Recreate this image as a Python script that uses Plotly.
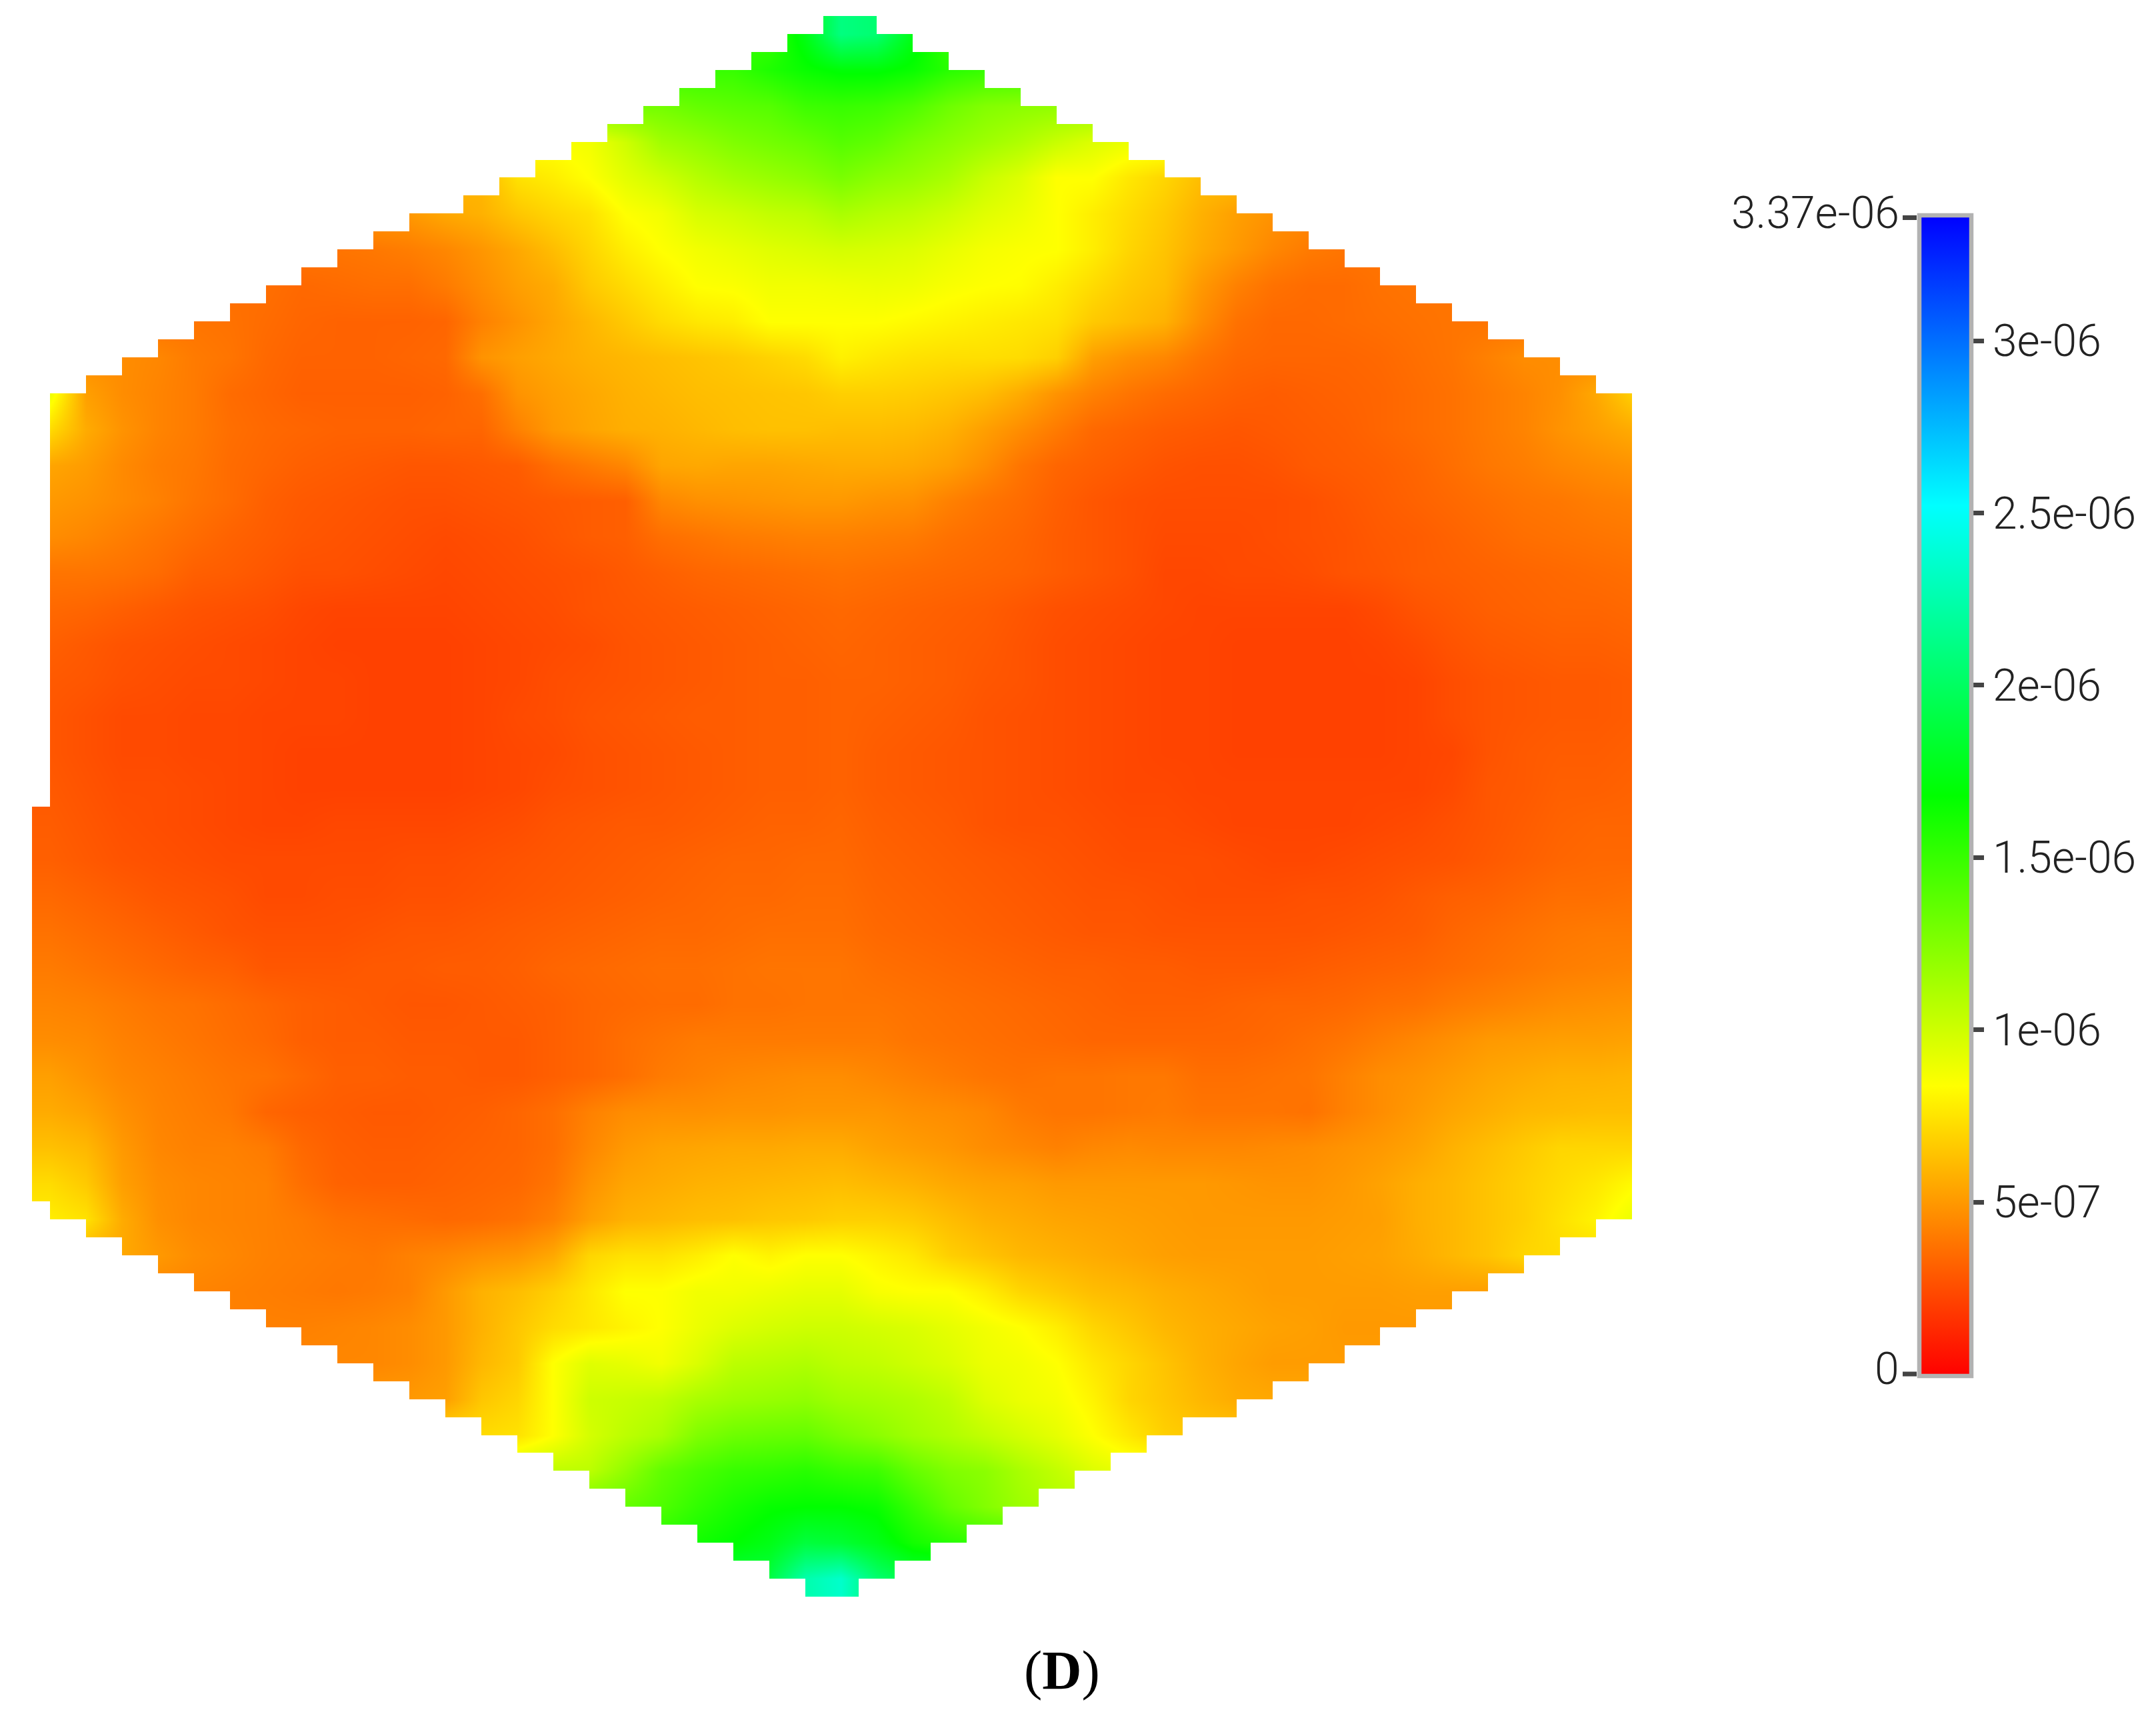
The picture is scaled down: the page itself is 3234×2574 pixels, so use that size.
import plotly.graph_objects as go

FIG_W = 3234
FIG_H = 2574
PAGE_MARGIN = 8  # the page body pushes the plot right and down by this much


def px(x):
    return (x - PAGE_MARGIN) / FIG_W


def py(y):
    return 1 - (y - PAGE_MARGIN) / FIG_H


# values, in units of 1e-8, one entry per 2x2 mesh cells
cell_values = [
    [150,150,150,150,150,150,150,150,150,150,150,150,150,150,150,150,150,150,150,150,150,175,210,205,175,150,150,150,150,150,150,150,150,150,150,150,150,150,150,150,150,150,150,150,150],
    [150,150,150,150,150,150,150,150,150,150,150,150,150,150,150,150,150,150,150,150,158,165,170,170,165,155,150,150,150,150,150,150,150,150,150,150,150,150,150,150,150,150,150,150,150],
    [130,130,130,130,130,130,130,130,130,130,130,130,130,130,130,130,130,130,135,138,140,148,150,148,142,132,125,122,120,120,120,120,120,120,120,120,120,120,120,120,120,120,120,120,120],
    [85,85,85,85,85,85,85,85,85,85,85,85,85,85,85,88,100,115,120,126,130,134,140,136,128,122,116,110,102,95,90,90,90,90,90,90,90,90,90,90,90,90,90,90,90],
    [60,60,60,60,60,60,60,60,60,60,60,60,60,74,78,84,93,100,108,114,118,122,128,122,118,112,102,95,84,84,76,70,62,62,62,62,62,62,62,62,62,62,62,62,62],
    [50,50,50,50,50,50,50,50,50,50,50,55,58,65,70,74,84,88,97,100,104,106,112,108,105,100,94,90,84,78,72,66,58,52,48,45,45,45,45,45,45,45,45,45,45],
    [38,38,38,38,38,38,38,38,38,39,41,44,49,55,62,70,78,84,88,91,94,96,98,97,95,91,87,85,84,78,70,64,56,50,44,40,38,38,38,38,38,38,38,38,38],
    [36,36,36,36,36,36,36,34,35,36,36,40,46,52,56,66,72,78,84,85,88,88,89,90,89,86,84,83,78,72,66,62,50,42,37,35,35,37,38,38,38,38,38,38,38],
    [38,38,38,38,38,37,35,33,32,32,32,33,42,48,54,60,66,72,76,78,84,84,84,84,82,80,78,76,74,66,62,58,46,37,34,34,35,36,37,38,38,38,38,38,38],
    [46,46,46,44,40,38,34,32,32,32,33,34,48,52,55,58,60,62,64,66,69,72,79,76,74,73,73,72,68,52,47,44,38,34,33,33,33,34,36,38,42,46,46,46,46],
    [90,52,46,43,40,35,33,31,31,31,31,32,36,48,52,55,58,60,62,63,64,65,68,68,67,65,62,56,48,42,38,35,33,31,30,31,32,33,35,37,40,43,47,55,68],
    [72,56,48,43,40,36,34,33,32,32,32,33,33,42,50,54,57,58,60,62,63,63,62,62,61,58,52,46,40,34,32,30,29,28,29,30,31,33,35,37,40,43,48,52,56],
    [54,51,45,41,39,35,33,31,30,29,28,28,29,30,36,40,44,54,55,54,54,55,56,56,55,52,46,38,33,31,29,27,26,26,27,29,30,31,33,36,39,41,44,46,48],
    [50,48,45,42,38,35,31,29,28,27,26,26,27,28,29,30,31,44,47,48,49,50,50,48,47,42,38,35,31,28,26,25,25,25,25,26,28,30,32,34,36,38,39,41,42],
    [46,44,41,38,35,32,30,28,27,26,25,24,25,26,28,30,31,36,38,40,41,42,42,41,40,37,35,33,30,28,26,24,24,24,25,26,27,29,30,32,34,36,37,38,39],
    [38,38,37,35,31,30,28,26,26,25,24,23,24,25,26,27,29,31,33,34,35,36,37,36,35,34,33,32,30,28,26,23,23,24,24,25,27,28,30,31,32,33,34,35,36],
    [34,33,31,29,27,26,25,23,22,22,22,22,23,24,25,27,28,29,30,31,32,33,34,33,32,31,30,28,26,25,24,23,22,22,22,22,22,24,27,29,31,32,33,33,34],
    [31,29,27,26,25,24,23,22,21,21,21,21,22,23,24,25,27,28,29,30,31,32,33,32,31,30,29,27,25,24,23,22,22,21,21,21,21,22,24,27,29,30,31,31,32],
    [29,28,26,25,24,24,23,22,22,21,21,21,22,23,25,26,27,28,29,30,31,31,32,32,31,30,28,27,25,24,23,22,22,21,21,21,21,21,22,25,27,28,29,29,30],
    [28,26,24,24,23,23,22,22,22,21,21,21,22,24,25,27,28,29,30,30,31,31,32,31,30,29,27,26,25,24,23,22,22,21,21,21,21,21,22,25,27,28,29,29,30],
    [28,26,24,24,23,23,22,21,21,21,21,21,22,23,24,26,27,28,29,30,31,31,32,30,29,28,27,26,25,24,23,22,22,21,21,21,21,21,22,23,27,29,30,30,31],
    [29,27,25,25,24,23,22,21,21,21,21,21,22,23,25,26,27,28,29,30,31,31,32,30,29,28,27,26,25,24,23,23,22,22,22,22,22,22,22,24,28,29,31,31,32],
    [30,28,26,25,24,23,22,22,23,23,23,23,24,25,27,28,29,29,30,31,32,32,33,31,30,29,27,26,26,25,24,24,23,22,22,22,22,23,24,26,28,30,32,33,33],
    [31,29,27,26,25,24,24,24,24,24,25,25,26,27,28,29,30,31,32,33,33,34,34,32,31,30,29,28,27,26,25,25,25,24,23,23,24,25,26,27,29,31,33,34,34],
    [34,32,30,28,27,26,24,24,25,25,26,26,27,28,29,30,31,32,33,34,34,35,35,33,32,31,30,29,28,27,27,26,25,25,25,26,26,27,29,31,32,34,36,36,37],
    [37,35,33,31,29,27,26,26,26,27,28,28,29,30,31,32,33,34,34,35,36,36,36,34,33,32,31,30,29,28,28,27,27,27,27,27,28,29,30,33,35,37,39,40,40],
    [40,38,36,34,32,31,28,28,28,29,29,30,30,31,33,34,35,36,36,37,38,38,38,36,35,34,33,32,31,31,30,30,29,29,29,30,31,32,33,35,37,39,41,42,43],
    [43,42,40,38,37,35,33,31,30,29,28,28,29,30,31,33,34,35,35,37,37,38,38,38,37,36,35,34,33,32,31,31,31,32,33,33,34,36,37,40,42,44,46,47,48],
    [46,45,42,40,38,36,34,31,30,30,29,29,29,29,31,33,36,38,40,40,40,40,40,40,38,37,36,35,34,33,33,33,33,33,34,36,38,41,44,47,50,51,52,52,53],
    [52,48,44,42,40,38,37,34,31,31,30,30,29,29,31,33,36,40,42,44,45,46,46,44,42,40,38,37,38,38,39,39,36,36,37,38,42,46,48,51,54,56,58,58,59],
    [56,53,47,43,41,39,33,31,30,29,29,30,31,33,36,42,46,47,47,48,48,49,49,49,47,46,44,40,38,38,39,40,38,38,38,37,42,46,50,54,57,60,61,62,62],
    [63,60,50,44,42,42,40,34,31,30,30,31,32,33,36,44,50,53,54,55,55,56,56,53,51,49,46,44,42,44,45,44,44,44,45,46,48,50,53,58,62,66,70,70,70],
    [72,66,52,46,44,43,42,36,32,31,31,32,33,34,38,48,54,56,58,59,60,61,62,60,58,55,53,52,50,50,50,50,50,49,48,48,50,53,57,60,64,68,72,76,82],
    [78,74,56,47,44,43,42,40,37,36,35,34,35,37,42,52,58,60,62,63,65,66,68,68,66,62,58,56,54,53,52,51,50,50,50,50,51,52,57,60,64,68,74,80,90],
    [60,58,55,50,46,44,42,41,40,39,42,44,47,49,55,70,74,74,78,84,80,84,84,80,76,68,64,60,58,56,54,52,51,51,51,51,52,53,56,60,64,70,72,72,72],
    [50,48,46,44,43,42,41,40,39,40,42,50,58,62,68,76,84,84,88,88,90,92,92,86,84,84,78,70,66,62,60,57,55,53,51,51,51,51,52,52,52,52,52,52,52],
    [44,44,44,44,43,42,42,42,43,44,46,50,58,65,72,76,80,84,90,95,98,100,100,98,96,92,88,84,78,70,65,60,57,55,53,52,50,50,50,50,50,50,50,50,50],
    [44,44,44,44,44,44,44,44,44,44,46,50,60,66,84,94,92,88,96,106,108,110,106,104,100,96,90,88,84,76,70,64,58,54,51,51,51,51,51,51,51,51,51,51,51],
    [50,50,50,50,50,50,50,50,50,50,50,52,65,70,84,100,102,105,112,116,118,120,115,113,110,105,95,90,87,80,70,65,60,56,55,55,55,55,55,55,55,55,55,55,55],
    [72,72,72,72,72,72,72,72,72,72,72,72,72,74,84,98,106,112,126,132,134,135,128,122,115,110,104,98,92,84,76,68,65,65,65,65,65,65,65,65,65,65,65,65,65],
    [100,100,100,100,100,100,100,100,100,100,100,100,100,100,105,106,120,136,144,150,152,155,150,148,135,126,122,112,104,95,90,90,90,90,90,90,90,90,90,90,90,90,90,90,90],
    [130,130,130,130,130,130,130,130,130,130,130,130,130,130,130,130,135,142,152,160,166,168,168,165,150,135,125,116,110,110,110,110,110,110,110,110,110,110,110,110,110,110,110,110,110],
    [155,155,155,155,155,155,155,155,155,155,155,155,155,155,155,155,155,155,162,168,175,188,185,176,162,155,150,150,150,150,150,150,150,150,150,150,150,150,150,150,150,150,150,150,150],
    [190,190,190,190,190,190,190,190,190,190,190,190,190,190,190,190,190,190,190,190,190,225,235,205,190,190,190,190,190,190,190,190,190,190,190,190,190,190,190,190,190,190,190,190,190],
]

# first and one-past-last mesh column of every mesh row
row_left = [44,42,40,38,36,34,32,30,28,26,24,21,19,17,15,13,11,9,7,5,3,1] + [1]*22 + [0]*22 + [1,3,5,7,9,11,13,15,17,19,21,23,25,27,29,31,33,35,37,39,41,43]
row_right = [47,49,51,53,55,57,59,61,63,65,67,69,71,73,75,77,79,81,83,85,87,89] + [89]*45 + [87,85,83,81,79,77,75,73,71,69,67,64,62,60,58,56,54,52,50,48,46]

tick_vals = [5e-07, 1e-06, 1.5e-06, 2e-06, 2.5e-06, 3e-06]
tick_text = ['5e-07', '1e-06', '1.5e-06', '2e-06', '2.5e-06', '3e-06']
max_label = '3.37e-06'
min_label = '0'

assert all(len(r) == 45 for r in cell_values), [len(r) for r in cell_values]

z = [[v * 1e-8 for v in row] for row in cell_values]
x_cells = [1 + 2 * j for j in range(45)]
y_cells = [1 + 2 * i for i in range(44)]

rainbow = [[0, '#ff0000'], [0.25, '#ffff00'], [0.5, '#00ff00'], [0.75, '#00ffff'], [1, '#0000ff']]
label_font = dict(family='Roboto', size=66, color='#222222', weight=300)

fig = go.Figure()
fig.add_trace(go.Heatmap(
    z=z, x=x_cells, y=y_cells, zsmooth='best', zmin=-0.5e-8, zmax=3.364e-06,
    colorscale=rainbow,
    colorbar=dict(
        x=px(2878.5), xanchor='left', xpad=0,
        y=py(2064), yanchor='bottom', ypad=0,
        len=1741, lenmode='pixels', thickness=78, thicknessmode='pixels',
        outlinewidth=6.5, outlinecolor='#b2b2b2', borderwidth=0,
        tickmode='array', tickvals=tick_vals, ticktext=tick_text,
        ticks='outside', ticklen=16, tickwidth=7, tickcolor='#444444',
        tickfont=label_font,
    ),
))

# everything outside the stepped hexagon is painted white
outside = [[None if row_left[r] <= c < row_right[r] else 1 for c in range(89)] for r in range(88)]
fig.add_trace(go.Heatmap(
    z=outside, x=[c + 0.5 for c in range(89)], y=[r + 0.5 for r in range(88)],
    zmin=0, zmax=1, colorscale=[[0, '#ffffff'], [1, '#ffffff']], showscale=False,
    hoverinfo='skip',
))

# end ticks sit on the left of the bar
for y_px in [326.5, 2061]:
    fig.add_shape(type='line', xref='paper', yref='paper',
                  x0=px(2854), x1=px(2875), y0=py(y_px), y1=py(y_px),
                  line=dict(color='#444444', width=7))

fig.add_annotation(text=max_label, xref='paper', yref='paper', x=px(2851), y=py(319),
                   xanchor='right', yanchor='middle', showarrow=False, font=label_font)
fig.add_annotation(text=min_label, xref='paper', yref='paper', x=px(2851), y=py(2054),
                   xanchor='right', yanchor='middle', showarrow=False, font=label_font)
fig.add_annotation(text='(<b>D</b>)', xref='paper', yref='paper', x=px(1593), y=py(2505),
                   xanchor='center', yanchor='middle', showarrow=False,
                   font=dict(family='Liberation Serif', size=82, color='#000000'))

fig.update_xaxes(visible=False, range=[0, 89], domain=[px(48), px(2448)])
fig.update_yaxes(visible=False, range=[88, 0], domain=[py(2395), py(24)])
fig.update_layout(width=FIG_W, height=FIG_H, margin=dict(l=0, r=0, t=0, b=0),
                  paper_bgcolor='white', plot_bgcolor='white')

fig.write_html("out.html")
